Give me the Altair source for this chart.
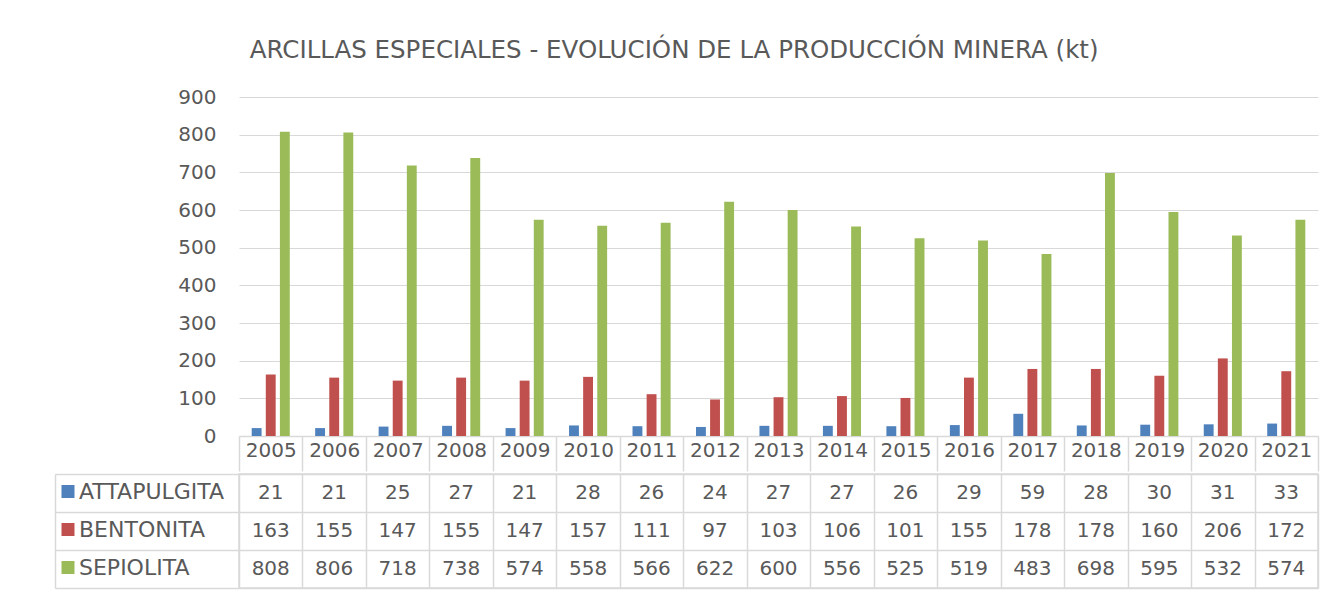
import altair as alt
import pandas as pd

years = ["2005", "2006", "2007", "2008", "2009", "2010", "2011", "2012", "2013",
         "2014", "2015", "2016", "2017", "2018", "2019", "2020", "2021"]
series = ["ATTAPULGITA", "BENTONITA", "SEPIOLITA"]
attapulgita = [21, 21, 25, 27, 21, 28, 26, 24, 27, 27, 26, 29, 59, 28, 30, 31, 33]
bentonita = [163, 155, 147, 155, 147, 157, 111, 97, 103, 106, 101, 155, 178, 178, 160, 206, 172]
sepiolita = [808, 806, 718, 738, 574, 558, 566, 622, 600, 556, 525, 519, 483, 698, 595, 532, 574]
y_ticks = [0, 100, 200, 300, 400, 500, 600, 700, 800, 900]
colors = ["#4F81BD", "#C0504D", "#9BBB59"]
title_text = "ARCILLAS ESPECIALES  - EVOLUCIÓN DE LA PRODUCCIÓN MINERA (kt)"

rows = []
for s, vals in zip(series, [attapulgita, bentonita, sepiolita]):
    for yr, v in zip(years, vals):
        rows.append({"year": yr, "series": s, "value": v})
df = pd.DataFrame(rows)

FONT = "DejaVu Sans"
GRAY = "#595959"
LINE = "#D9D9D9"

bars = alt.Chart(df).mark_bar().encode(
    x=alt.X("year:N", sort=years, title=None,
            scale=alt.Scale(paddingInner=0, paddingOuter=0),
            axis=alt.Axis(orient="bottom", labelAngle=0, labelFont=FONT, labelFontSize=20,
                          labelColor=GRAY, labelPadding=-31, labelBaseline="top",
                          tickBand="extent", tickSize=35, tickColor=LINE, tickWidth=1.5,
                          domainColor=LINE, domainWidth=1.5, grid=False)),
    xOffset=alt.XOffset("series:N", sort=series,
                        scale=alt.Scale(paddingInner=0.3, paddingOuter=0.9)),
    y=alt.Y("value:Q", title=None, scale=alt.Scale(domain=[0, 900], nice=False),
            axis=alt.Axis(values=y_ticks, domain=False, ticks=False, labelFont=FONT,
                          labelFontSize=20, labelColor=GRAY, labelPadding=23,
                          gridColor=LINE, gridWidth=1)),
    color=alt.Color("series:N", sort=series,
                    scale=alt.Scale(domain=series, range=colors),
                    legend=alt.Legend(orient="none", legendX=-182, legendY=383.5, title=None,
                                      direction="vertical", symbolType="square",
                                      symbolSize=169, symbolStrokeWidth=0, symbolOpacity=1,
                                      labelFont=FONT, labelFontSize=22, labelColor=GRAY,
                                      labelOffset=0, rowPadding=16, padding=0)),
).properties(width=1079, height=339)

xt = alt.X("year:N", sort=years, title=None,
           scale=alt.Scale(paddingInner=0, paddingOuter=0),
           axis=alt.Axis(orient="top", labels=False, ticks=False, domain=False, grid=True,
                         gridColor=LINE, gridWidth=1.5, tickBand="extent"))

t1 = alt.Chart(df).mark_text(font=FONT, fontSize=20, color=GRAY).encode(
    x=xt,
    y=alt.Y("series:N", sort=series, title=None,
            scale=alt.Scale(paddingInner=0, paddingOuter=0),
            axis=alt.Axis(orient="left", labels=False, ticks=True, tickSize=184,
                          tickBand="extent", tickColor=LINE, tickWidth=1.5, domain=False,
                          grid=True, gridColor=LINE, gridWidth=1.5)),
    text="value:Q",
)
t2 = alt.Chart(df).mark_text(font=FONT, fontSize=20, opacity=0).encode(
    x=xt,
    y=alt.Y("series:N", sort=series, title=None,
            scale=alt.Scale(paddingInner=0, paddingOuter=0),
            axis=alt.Axis(orient="left", offset=184, labels=False, ticks=False, grid=False,
                          domain=True, domainColor=LINE, domainWidth=1.5)),
    text="value:Q",
)
table = alt.layer(t1, t2).resolve_axis(y="independent").properties(
    width=1079, height=114, view=alt.ViewBackground(stroke=LINE, strokeWidth=1.5))

chart = alt.vconcat(bars, table, spacing=0).properties(
    title=alt.Title(title_text, font=FONT, fontSize=24.5, color=GRAY, fontWeight="normal",
                    anchor="middle", frame="bounds", offset=24, dx=-12),
    padding={"left": 45, "top": 29, "right": 5, "bottom": 0},
).configure_view(stroke=None)

chart.save("out.html", embed_options={"renderer": "svg", "actions": False})
